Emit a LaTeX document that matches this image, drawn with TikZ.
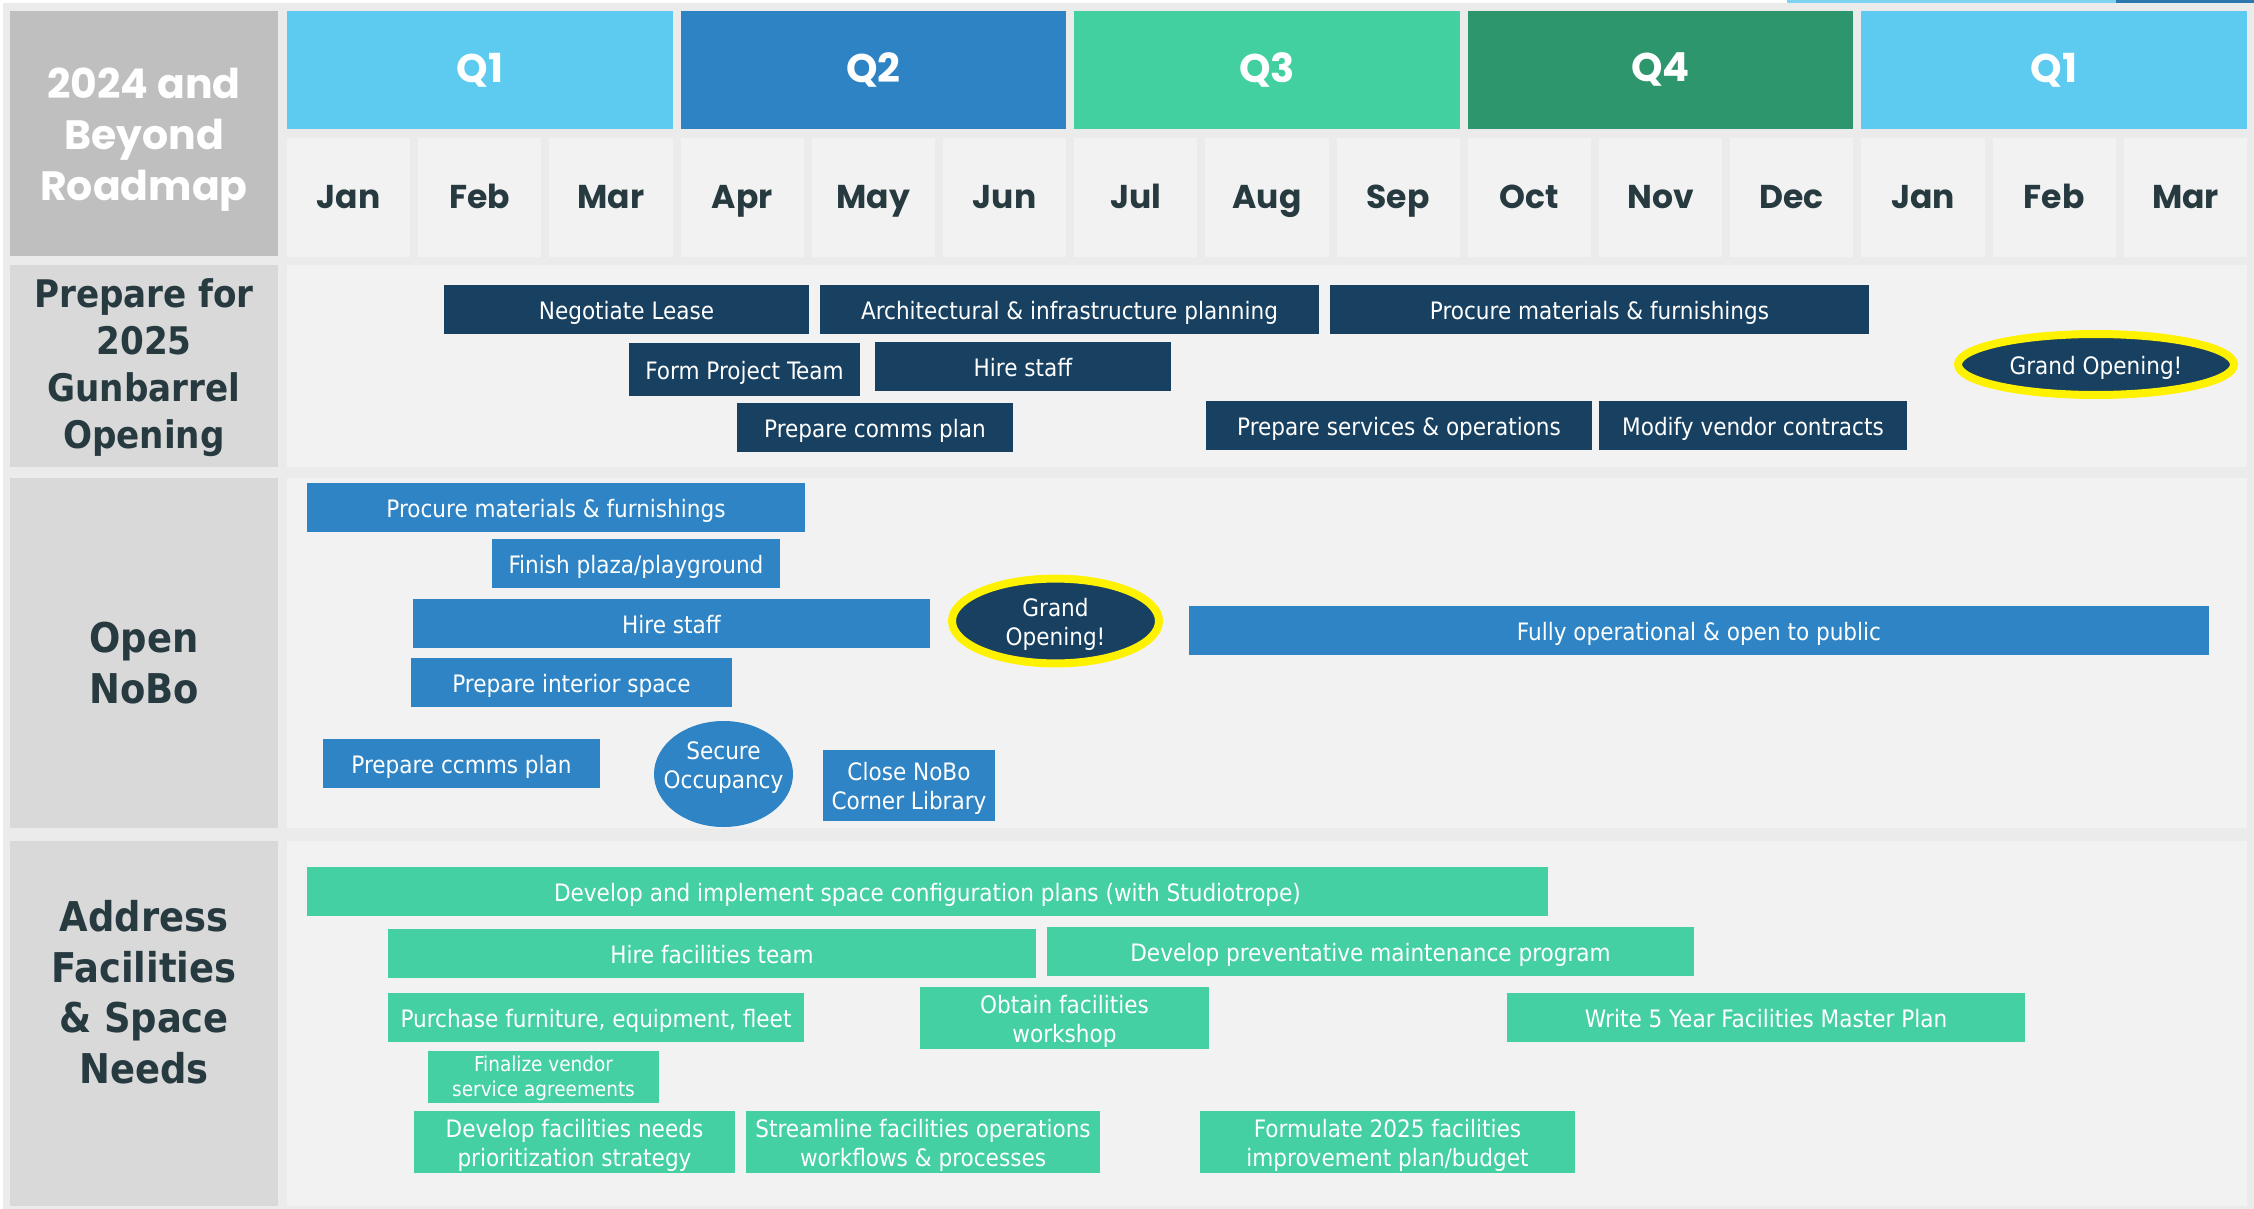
\documentclass[tikz,border=0pt]{standalone}
\usepackage{fontspec}
\usetikzlibrary{shapes.geometric, positioning}
\newfontfamily\headfont{Poppins}
\newfontfamily\barfont{DejaVu Sans Condensed}
\newcommand{\topstrut}{\rule{0pt}{25pt}}

\definecolor{qone}{HTML}{5DCBF0}
\definecolor{qtwo}{HTML}{2E83C4}
\definecolor{qthree}{HTML}{43D0A0}
\definecolor{qfour}{HTML}{2E966C}
\definecolor{navy}{HTML}{184060}
\definecolor{nobo}{HTML}{2E84C4}
\definecolor{facil}{HTML}{44D0A2}
\definecolor{darktext}{HTML}{263A40}
\definecolor{pagegray}{HTML}{EBEBEB}
\definecolor{cellgray}{HTML}{F2F2F2}
\definecolor{sidegray}{HTML}{D9D9D9}
\definecolor{titlegray}{HTML}{BFBFBF}
\definecolor{edgeblue}{HTML}{7DD3F0}
\definecolor{edgedark}{HTML}{2E77AE}

\tikzstyle{quarter} = [
    rectangle,
    minimum width=385.6pt,
    minimum height=118pt,
    inner sep=0pt, outer sep=0pt,
    text=white,
    font=\headfont\bfseries\fontsize{40}{48}\selectfont
]
\tikzstyle{month} = [
    rectangle,
    fill=cellgray,
    minimum width=123.2pt,
    minimum height=119pt,
    inner sep=0pt, outer sep=0pt,
    text height=23pt, text depth=0pt,
    text=darktext,
    font=\headfont\bfseries\fontsize{33}{40}\selectfont
]
\tikzstyle{sidecell} = [rectangle, fill=sidegray, minimum width=268pt, inner sep=0pt]
\tikzstyle{rowcell} = [rectangle, fill=cellgray, minimum width=1960pt, inner sep=0pt]
\tikzstyle{rowlabel} = [
    align=center,
    text=darktext,
    font=\barfont\bfseries\fontsize{41}{50.5}\selectfont
]
\tikzstyle{bar} = [
    rectangle,
    inner sep=0pt, outer sep=0pt,
    minimum height=49pt,
    text=white,
    align=center,
    font=\barfont\fontsize{24}{29}\selectfont,
    execute at begin node={\rule{0pt}{26pt}},
    execute at end node={\rule[-6pt]{0pt}{0pt}}
]
\tikzstyle{navybar} = [bar, fill=navy]
\tikzstyle{nobobar} = [bar, fill=nobo]
\tikzstyle{facilbar} = [bar, fill=facil]
\tikzstyle{gala} = [
    ellipse,
    fill=navy,
    draw=yellow,
    line width=8pt,
    inner sep=0pt,
    text=white,
    align=center,
    font=\barfont\fontsize{24}{29}\selectfont,
    execute at begin node={\rule{0pt}{26pt}},
    execute at end node={\rule[-6pt]{0pt}{0pt}}
]

\begin{document}
\begin{tikzpicture}[x=1pt, y=-1pt]

\useasboundingbox (0,0) rectangle (2254,1209);
\fill[white] (0,0) rectangle (2254,1209);
\fill[pagegray] (2.5,3) rectangle (2254,1209);
\fill[edgeblue] (1787,0) rectangle (2116,3);
\fill[edgedark] (2116,0) rectangle (2254,3);

% header
\node (roadmap) [rectangle, fill=titlegray, minimum width=268pt, minimum height=245pt,
    inner sep=0pt] at (144,133.5) {};
\node (roadmaplabel) [align=center, text=white,
    font=\headfont\bfseries\fontsize{41}{51}\selectfont] at (144,139.5)
{2024 and\\Beyond\\Roadmap};

\node (qa) [quarter, fill=qone] at (479.8,70) {Q1};
\node (qb) [quarter, fill=qtwo, right=8pt of qa] {Q2};
\node (qc) [quarter, fill=qthree, right=8pt of qb] {Q3};
\node (qd) [quarter, fill=qfour, right=8pt of qc] {Q4};
\node (qe) [quarter, fill=qone, right=8pt of qd] {Q1};

\node (jan) [month] at (348.6,197.5) {Jan};
\node (feb) [month, right=8pt of jan] {Feb};
\node (mar) [month, right=8pt of feb] {Mar};
\node (apr) [month, right=8pt of mar] {Apr};
\node (may) [month, right=8pt of apr] {May};
\node (jun) [month, right=8pt of may] {Jun};
\node (jul) [month, right=8pt of jun] {Jul};
\node (aug) [month, right=8pt of jul] {Aug};
\node (sep) [month, right=8pt of aug] {Sep};
\node (oct) [month, right=8pt of sep] {Oct};
\node (nov) [month, right=8pt of oct] {Nov};
\node (dec) [month, right=8pt of nov] {Dec};
\node (jannext) [month, right=8pt of dec] {Jan};
\node (febnext) [month, right=8pt of jannext] {Feb};
\node (marnext) [month, right=8pt of febnext] {Mar};

% row cells
\node (prepside) [sidecell, minimum height=202pt] at (144,366) {};
\node (prepcell) [rowcell, minimum height=202pt] at (1267,366) {};
\node (noboside) [sidecell, minimum height=350pt] at (144,653) {};
\node (nobocell) [rowcell, minimum height=350pt] at (1267,653) {};
\node (facilside) [sidecell, minimum height=365pt] at (144,1023.5) {};
\node (facilcell) [rowcell, minimum height=365pt] at (1267,1023.5) {};

\node (preplabel) [rowlabel, font=\barfont\bfseries\fontsize{38}{47}\selectfont] at (144,368)
{Prepare for\\2025\\Gunbarrel\\Opening};
\node (nobolabel) [rowlabel] at (144,663) {Open\\NoBo};
\node (facillabel) [rowlabel] at (144,992) {Address\\Facilities\\\& Space\\Needs};

% prepare for 2025 gunbarrel opening
\node (lease) [navybar, minimum width=365pt] at (626.5,309.5) {Negotiate Lease};
\node (arch) [navybar, minimum width=499pt, right=11pt of lease]
{Architectural \& infrastructure planning};
\node (procure) [navybar, minimum width=539pt, right=11pt of arch]
{Procure materials \& furnishings};
\node (team) [navybar, minimum width=231pt, minimum height=53pt] at (744.5,369.3)
{Form Project Team};
\node (hirestaff) [navybar, minimum width=296pt] at (1023,366.3) {Hire staff};
\node (comms) [navybar, minimum width=276pt] at (875,427.5) {Prepare comms plan};
\node (services) [navybar, minimum width=386pt] at (1399,425.5)
{Prepare services \& operations};
\node (vendor) [navybar, minimum width=308pt, right=7pt of services]
{Modify vendor contracts};
\node (gunopening) [gala, minimum width=276pt, minimum height=61pt] at (2096,364.5)
{Grand Opening!};

% open nobo
\node (noboprocure) [nobobar, minimum width=498pt] at (556,507.5)
{Procure materials \& furnishings};
\node (plaza) [nobobar, minimum width=288pt] at (636,563.5) {Finish plaza/playground};
\node (hirenobo) [nobobar, minimum width=517pt] at (671.5,623.5) {Hire staff};
\node (interior) [nobobar, minimum width=321pt] at (571.5,682.5) {Prepare interior space};
\node (ccmms) [nobobar, minimum width=277pt] at (461.5,763.5) {Prepare ccmms plan};
\node (occupancy) [ellipse, fill=nobo, inner sep=0pt, inner xsep=-25pt,
    minimum width=139pt, minimum height=106pt, text=white, align=center,
    font=\barfont\fontsize{24}{29}\selectfont] at (723.5,774)
{Secure\\Occupancy\rule[-18pt]{0pt}{0pt}};
\node (corner) [nobobar, minimum width=172pt, minimum height=71pt] at (909,785.5)
{\topstrut Close NoBo\\Corner Library};
\node (noboopening) [gala, minimum width=207pt, minimum height=84pt] at (1055.5,621)
{\topstrut Grand\\Opening!};
\node (public) [nobobar, minimum width=1020pt] at (1699,630.5)
{Fully operational \& open to public};

% address facilities & space needs
\node (space) [facilbar, minimum width=1241pt] at (927.5,891.5)
{Develop and implement space configuration plans (with Studiotrope)};
\node (facteam) [facilbar, minimum width=648pt] at (712,953.5) {Hire facilities team};
\node (maint) [facilbar, minimum width=647pt, right=11pt of facteam, yshift=2pt]
{Develop preventative maintenance program};
\node (purchase) [facilbar, minimum width=416pt] at (596,1017.5)
{Purchase furniture, equipment, fleet};
\node (workshop) [facilbar, minimum width=289pt, minimum height=62pt] at (1064.5,1018)
{\topstrut Obtain facilities\\workshop};
\node (master) [facilbar, minimum width=518pt] at (1766,1017.5)
{Write 5 Year Facilities Master Plan};
\node (agreements) [facilbar, minimum width=231pt,
    font=\barfont\fontsize{20.5}{25}\selectfont,
    execute at begin node={}, execute at end node={}] at (543.5,1076.5)
{\rule{0pt}{21pt}Finalize vendor\\service agreements};
\node (needs) [facilbar, minimum width=321pt, minimum height=62pt] at (574.5,1142)
{\topstrut Develop facilities needs\\prioritization strategy};
\node (streamline) [facilbar, minimum width=354pt, minimum height=62pt, right=11pt of needs]
{\topstrut Streamline facilities operations\\workflows \& processes};
\node (budget) [facilbar, minimum width=375pt, minimum height=62pt] at (1387.5,1142)
{\topstrut Formulate 2025 facilities\\improvement plan/budget};

\end{tikzpicture}
\end{document}
